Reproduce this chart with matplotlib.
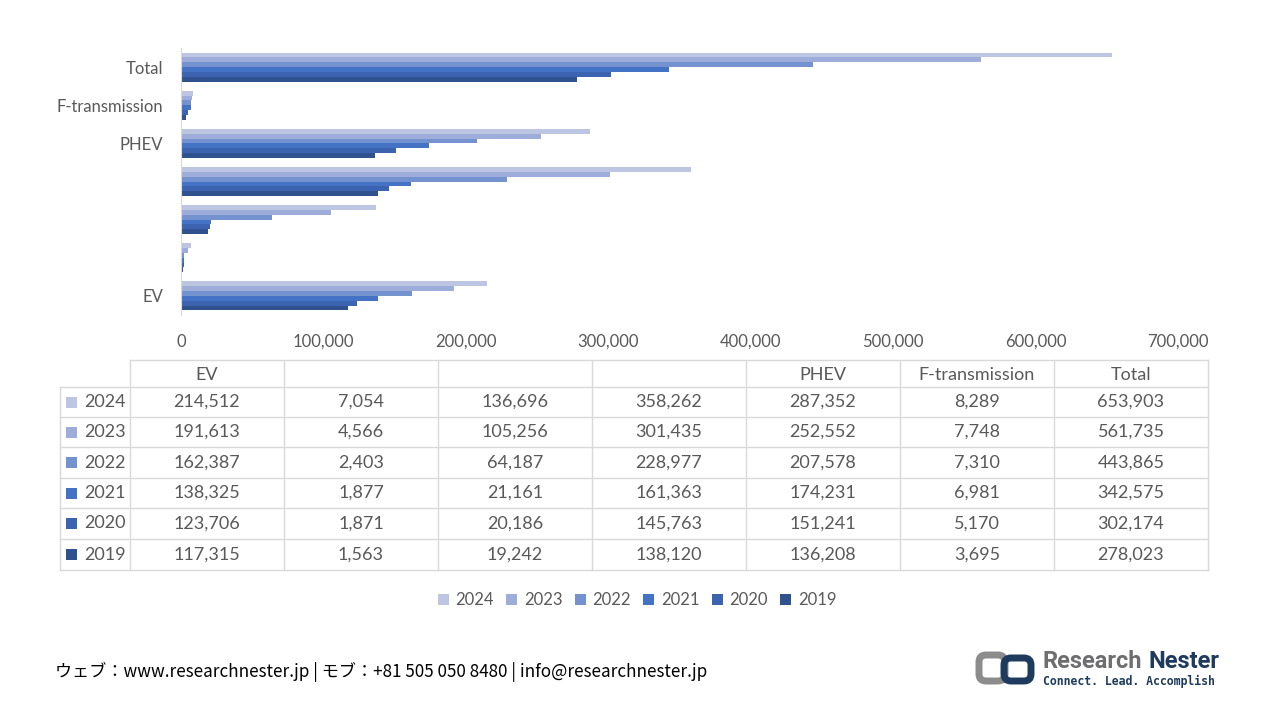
import matplotlib
matplotlib.use("Agg")
import matplotlib.pyplot as plt
from matplotlib.patches import Rectangle, FancyBboxPatch, Patch
import numpy as np

plt.rcParams['font.family'] = ['Lato', 'DejaVu Sans']

categories = ["EV", "", "", "", "PHEV", "F-transmission", "Total"]
years = ["2019", "2020", "2021", "2022", "2023", "2024"]
values = {
    "2024": [214512, 7054, 136696, 358262, 287352, 8289, 653903],
    "2023": [191613, 4566, 105256, 301435, 252552, 7748, 561735],
    "2022": [162387, 2403, 64187, 228977, 207578, 7310, 443865],
    "2021": [138325, 1877, 21161, 161363, 174231, 6981, 342575],
    "2020": [123706, 1871, 20186, 145763, 151241, 5170, 302174],
    "2019": [117315, 1563, 19242, 138120, 136208, 3695, 278023],
}
colors = {
    "2024": "#BCC5E1",
    "2023": "#9DACD9",
    "2022": "#7491D0",
    "2021": "#4472C4",
    "2020": "#3B63AF",
    "2019": "#2F528F",
}
xticks = [0, 100000, 200000, 300000, 400000, 500000, 600000, 700000]

TXT = "#595959"
GRID = "#D9D9D9"

fig = plt.figure(figsize=(12.8, 7.2), dpi=100)

# overlay for table, footer, logo (pixel coords)
ov = fig.add_axes([0, 0, 1, 1])
ov.set_xlim(0, 1280)
ov.set_ylim(720, 0)
ov.axis("off")

# main bar axes
ax = fig.add_axes([181 / 1280, 1 - 315 / 720, 997 / 1280, 267 / 720])
n = len(years)
group = 0.76
h = group / n
ypos = np.arange(len(categories))
for j, yr in enumerate(years):
    ax.barh(ypos - group / 2 + h * (j + 0.5), values[yr], height=h,
            color=colors[yr], linewidth=0)
ax.set_xlim(0, 700000)
ax.set_ylim(-0.5, len(categories) - 0.5)
ax.set_yticks(ypos)
ax.set_yticklabels(categories)
ax.set_xticks(xticks)
ax.set_xticklabels([f"{v:,}" for v in xticks])
ax.tick_params(axis="both", length=0, labelsize=12, colors=TXT)
ax.tick_params(axis="x", pad=13.5)
ax.tick_params(axis="y", pad=13)
for s in ["top", "right", "bottom"]:
    ax.spines[s].set_visible(False)
ax.spines["left"].set_color(GRID)
ax.set_facecolor("none")

# data table
col_x = [130 + 154 * i for i in range(len(categories) + 1)]
row_y = [360, 387, 417, 447, 478, 508, 539, 570]
lk = dict(color=GRID, lw=1)
ov.plot([130, col_x[-1]], [row_y[0], row_y[0]], **lk)
for y in row_y[1:]:
    ov.plot([60, col_x[-1]], [y, y], **lk)
ov.plot([60, 60], [row_y[1], row_y[-1]], **lk)
for x in col_x:
    ov.plot([x, x], [row_y[0], row_y[-1]], **lk)
for i, c in enumerate(categories):
    ov.text((col_x[i] + col_x[i + 1]) / 2, (row_y[0] + row_y[1]) / 2 + 1.5, c,
            ha="center", va="center", fontsize=13, color=TXT)
table_years = years[::-1]
for r, yr in enumerate(table_years):
    yc = (row_y[r + 1] + row_y[r + 2]) / 2
    ov.add_patch(Rectangle((66, yc - 5.5), 11, 11, color=colors[yr], lw=0))
    ov.text(126, yc, yr, ha="right", va="center", fontsize=13, color=TXT)
    for i, v in enumerate(values[yr]):
        ov.text((col_x[i] + col_x[i + 1]) / 2, yc, f"{v:,}",
                ha="center", va="center", fontsize=13, color=TXT)

# legend
handles = [Patch(facecolor=colors[y], edgecolor="none", label=y) for y in table_years]
fig.legend(handles=handles, loc="center", bbox_to_anchor=(637 / 1280, 1 - 600 / 720),
           ncol=6, frameon=False, fontsize=12, handlelength=0.65, handleheight=0.65,
           handletextpad=0.4, columnspacing=0.75, labelcolor=TXT)

# footer
ov.text(55, 672, "ウェブ：www.researchnester.jp | モブ：+81 505 050 8480 | info@researchnester.jp",
        ha="left", va="center", fontsize=12.3, color="#000000",
        family=["Noto Sans CJK JP", "DejaVu Sans"])

# logo
ov.add_patch(FancyBboxPatch((979, 655), 26, 26, boxstyle="round,pad=0,rounding_size=7",
                            fill=False, edgecolor="#8C8C8C", lw=5))
ov.add_patch(FancyBboxPatch((1004, 658), 27, 23, boxstyle="round,pad=0,rounding_size=7",
                            fill=False, edgecolor="#1E3A5C", lw=5))
ov.text(1042, 662, "Research", ha="left", va="center", fontsize=17, fontweight="bold",
        color="#6E6E70", family="Roboto")
ov.text(1220, 662, "Nester", ha="right", va="center", fontsize=17, fontweight="bold",
        color="#1E3A5C", family="Roboto")
ov.text(1043, 681, "Connect. Lead. Accomplish", ha="left", va="center", fontsize=8.3,
        fontweight="bold", color="#1E3A5C", family="DejaVu Sans Mono")

fig.savefig("out.png", dpi=100, facecolor="white")
